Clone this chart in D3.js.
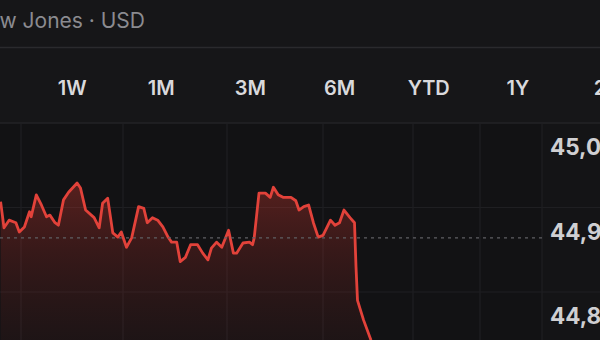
<!DOCTYPE html>
<html>
<head>
<meta charset="utf-8">
<script src="https://cdn.jsdelivr.net/npm/d3@7"></script>
<style>
  html, body { margin: 0; padding: 0; background: #121214; overflow: hidden; }
  svg { display: block; }
</style>
</head>
<body>
<svg id="chart" width="600" height="340"></svg>
<script>
// ---- data ----
const title = "Dow Jones · USD";
const ranges = ["1D", "1W", "1M", "3M", "6M", "YTD", "1Y", "2Y"];
const selectedRange = "1D";
// minutes since midnight for each price point
const times = [588, 590, 593, 597, 599, 602, 605, 606, 609, 612, 615, 617, 620, 622, 625, 628, 633, 635, 638, 643,
  646, 648, 651, 654, 657, 659, 662, 665, 669, 672, 674, 677, 680, 683, 686, 688, 691, 693, 696, 699,
  703, 706, 709, 711, 714, 717, 721, 724, 726, 730, 734, 736, 737, 740, 744, 747, 749, 752, 755, 760,
  763, 765, 768, 771, 774, 777, 780, 785, 788, 791, 794, 798, 801, 802, 803, 807, 812];
const prices = [44907, 44876, 44885, 44882, 44871, 44877, 44895, 44889, 44915, 44903, 44889, 44891, 44882, 44879, 44909, 44918, 44929, 44923, 44897, 44888,
  44876, 44905, 44911, 44870, 44865, 44871, 44853, 44864, 44901, 44899, 44882, 44888, 44885, 44877, 44865, 44859, 44859, 44836, 44841, 44856,
  44856, 44846, 44838, 44852, 44859, 44853, 44873, 44846, 44846, 44858, 44859, 44856, 44864, 44917, 44917, 44912, 44924, 44915, 44912, 44912,
  44908, 44897, 44901, 44903, 44882, 44865, 44867, 44885, 44879, 44882, 44897, 44888, 44882, 44830, 44790, 44767, 44743];
const previousClose = 44864;
const yTicks = [45000, 44900, 44800];
const hourTicks = [600, 660, 720, 780, 840, 900, 960];

// ---- layout ----
const svg = d3.select("#chart");
const W = 600, H = 340;
const chartTop = 123, plotRight = 542;

svg.append("rect").attr("width", W).attr("height", H).attr("fill", "#121214");
svg.append("rect").attr("width", W).attr("height", chartTop).attr("fill", "#161618");
svg.append("rect").attr("x", plotRight).attr("y", chartTop).attr("width", W - plotRight).attr("height", H - chartTop).attr("fill", "#141416");

// scales (screen is slightly compressed towards the right)
const x = d3.scaleLinear()
  .domain(hourTicks)
  .range([21, 123, 227, 323, 413, 480, 542]);
const y = d3.scaleLinear().domain([44800, 45000]).range([292, 123]);

const fmt = d3.format(",");

// title
svg.append("text")
  .attr("x", 145).attr("y", 28)
  .attr("text-anchor", "end")
  .attr("font-family", "Inter, 'Open Sans', sans-serif")
  .attr("font-size", 21)
  .attr("fill", "#8b8b90")
  .text(title);

svg.append("line").attr("x1", 0).attr("x2", W).attr("y1", 47.5).attr("y2", 47.5)
  .attr("stroke", "#2a2a2d").attr("stroke-width", 1.5);

// range selector
const rangeX = d3.scalePoint().domain(ranges).range([-17, 607]);
svg.append("rect")
  .attr("x", rangeX(selectedRange) - 30).attr("y", 60)
  .attr("width", 43).attr("height", 53).attr("rx", 9)
  .attr("fill", "#2c2c2f");
svg.selectAll("text.range").data(ranges).join("text")
  .attr("class", "range")
  .attr("x", d => rangeX(d)).attr("y", 95)
  .attr("text-anchor", "middle")
  .attr("font-family", "Inter, 'Open Sans', sans-serif")
  .attr("font-size", 20).attr("font-weight", 600)
  .attr("fill", "#d9d9dc")
  .text(d => d);

// grid
const grid = svg.append("g");
grid.append("line").attr("x1", 0).attr("x2", W).attr("y1", chartTop).attr("y2", chartTop)
  .attr("stroke", "#232326").attr("stroke-width", 1.5);
grid.selectAll("line.h").data(yTicks.slice(1)).join("line")
  .attr("class", "h")
  .attr("x1", 0).attr("x2", W)
  .attr("y1", d => y(d)).attr("y2", d => y(d))
  .attr("stroke", "#1f1f22").attr("stroke-width", 1.2);
grid.selectAll("line.v").data(hourTicks).join("line")
  .attr("class", "v")
  .attr("x1", d => x(d)).attr("x2", d => x(d))
  .attr("y1", chartTop).attr("y2", H)
  .attr("stroke", "#1f1f22").attr("stroke-width", 1.2);

// y labels
svg.selectAll("text.ylab").data(yTicks).join("text")
  .attr("class", "ylab")
  .attr("x", 550).attr("y", d => y(d) + 32)
  .attr("font-family", "Inter, 'Open Sans', sans-serif")
  .attr("font-size", 22.5).attr("font-weight", 700)
  .attr("fill", "#cfcfd2")
  .text(d => fmt(d));

// clip
svg.append("clipPath").attr("id", "plotclip")
  .append("rect").attr("x", 0).attr("y", chartTop).attr("width", plotRight).attr("height", H - chartTop);

const data = times.map((t, i) => ({ t, v: prices[i] }));

const grad = svg.append("defs").append("linearGradient")
  .attr("id", "fillgrad").attr("gradientUnits", "userSpaceOnUse")
  .attr("x1", 0).attr("x2", 0).attr("y1", y(44930)).attr("y2", H);
grad.append("stop").attr("offset", 0).attr("stop-color", "#d23a30").attr("stop-opacity", 0.36);
grad.append("stop").attr("offset", 0.45).attr("stop-color", "#b8302a").attr("stop-opacity", 0.22);
grad.append("stop").attr("offset", 1).attr("stop-color", "#8a2a25").attr("stop-opacity", 0.1);

const plot = svg.append("g").attr("clip-path", "url(#plotclip)");

plot.append("path").datum(data)
  .attr("fill", "url(#fillgrad)")
  .attr("d", d3.area().x(d => x(d.t)).y0(H + 10).y1(d => y(d.v)));

// previous close dashed line
svg.append("line")
  .attr("x1", 0).attr("x2", plotRight)
  .attr("y1", y(previousClose)).attr("y2", y(previousClose))
  .attr("stroke", "#5f5f63").attr("stroke-width", 1.3)
  .attr("stroke-dasharray", "3,4");

plot.append("path").datum(data)
  .attr("fill", "none")
  .attr("stroke", "#e2423a")
  .attr("stroke-width", 2.8)
  .attr("stroke-linejoin", "round")
  .attr("d", d3.line().x(d => x(d.t)).y(d => y(d.v)));
</script>
</body>
</html>
